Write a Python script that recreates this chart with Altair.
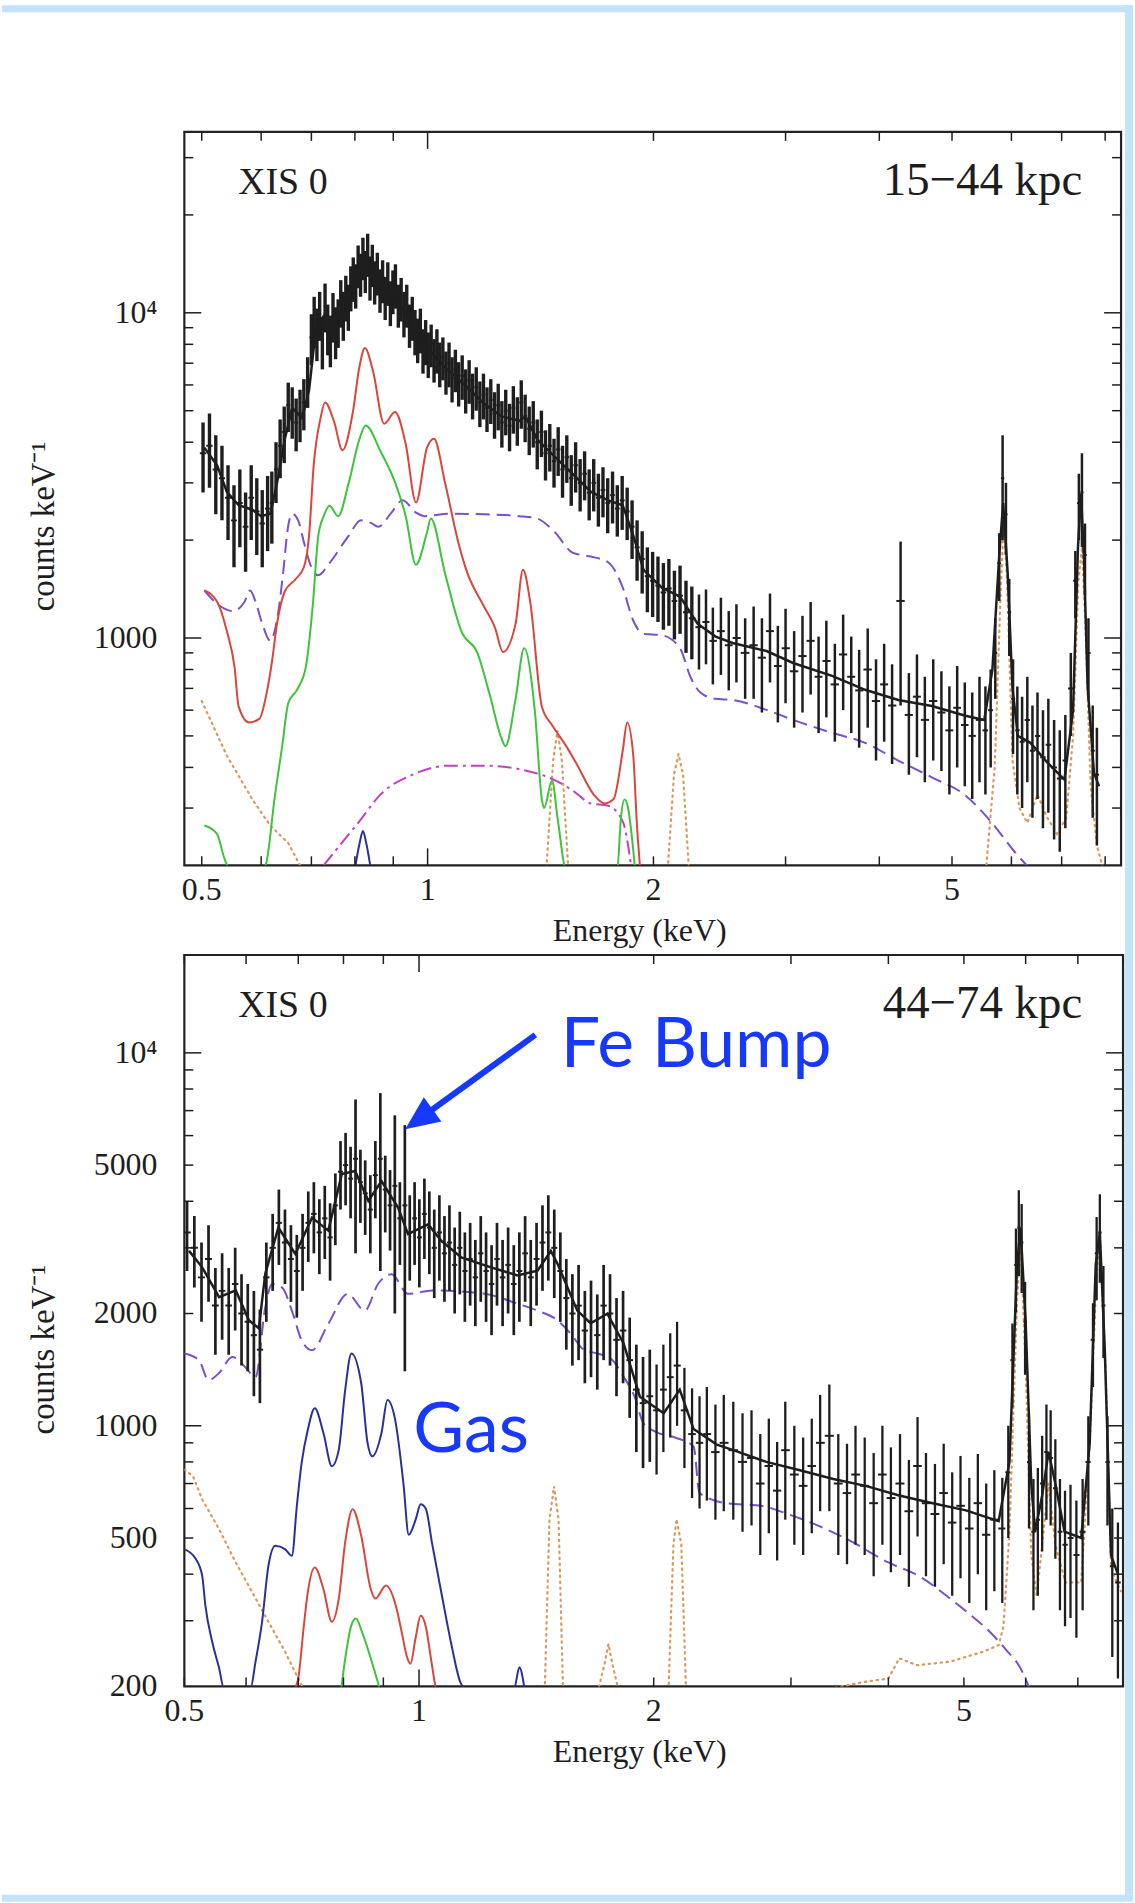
import altair as alt
import numpy as np
import pandas as pd

SERIF = "Liberation Serif"
INK = "#1e1e1e"
FRAME_BLUE = "#c3e3fa"
NOTE_BLUE = "#1738ff"

# ---------------- upper panel: XIS 0, 15-44 kpc ----------------
TOP_E = [0.502, 0.512, 0.522, 0.532, 0.542, 0.552, 0.562, 0.572, 0.582, 0.592, 0.602, 0.612,
         0.620, 0.628, 0.636, 0.644, 0.652, 0.660, 0.668, 0.676, 0.684, 0.692,
         0.700, 0.706, 0.712, 0.718, 0.724, 0.730, 0.736, 0.742, 0.748, 0.754, 0.760, 0.766, 0.772, 0.778, 0.784, 0.790,
         0.796, 0.802, 0.808, 0.814, 0.820, 0.826, 0.832, 0.838, 0.844, 0.850, 0.857, 0.864, 0.871, 0.878, 0.885, 0.892,
         0.899, 0.906, 0.914, 0.922, 0.930, 0.938, 0.946, 0.954,
         0.962, 0.970, 0.978, 0.986, 0.994, 1.002, 1.011, 1.020, 1.029, 1.038, 1.048, 1.058, 1.068, 1.078, 1.089, 1.100,
         1.112, 1.124, 1.136, 1.148, 1.161, 1.174, 1.187, 1.200, 1.214, 1.228,
         1.242, 1.256, 1.271, 1.286, 1.301, 1.317, 1.333, 1.349, 1.366, 1.383, 1.400, 1.418, 1.436, 1.455, 1.474, 1.493,
         1.513, 1.533, 1.554, 1.575, 1.597, 1.619, 1.642, 1.665, 1.689, 1.713, 1.738, 1.764, 1.790, 1.817,
         1.845, 1.873, 1.902, 1.932, 1.963, 1.995, 2.028, 2.062, 2.097, 2.133, 2.170, 2.210, 2.250, 2.300, 2.350, 2.400,
         2.460, 2.520, 2.580, 2.650,
         2.72, 2.79, 2.86, 2.93, 3.00, 3.08, 3.16, 3.24, 3.32, 3.40, 3.49, 3.58, 3.67, 3.76, 3.86, 3.96, 4.06, 4.16,
         4.27, 4.38, 4.49, 4.60, 4.72, 4.84, 4.96, 5.08, 5.20, 5.32,
         5.44, 5.54, 5.63, 5.71, 5.78, 5.84, 5.90, 5.96, 6.03, 6.11, 6.20, 6.30, 6.40, 6.50, 6.61, 6.72, 6.84, 6.96,
         7.08, 7.20, 7.30, 7.38, 7.45, 7.52, 7.60, 7.70, 7.80]
TOP_CTS = [3700, 3900, 3300, 3100, 2700, 2300, 2600, 2200, 2700, 2450, 2250, 2500,
           2600, 3300, 3900, 4300, 5200, 5000, 4600, 4900, 5300, 6200,
           8400, 9500, 8700, 9900, 8200, 10500, 9000, 8300, 9800, 8800, 9400, 10800, 9900, 11200, 10500, 12000,
           12800, 12200, 14000, 13200, 14800, 13500, 15200, 12900, 14100, 12500, 13300, 11800, 12600, 11200, 12400, 10800,
           11700, 12200, 10600, 11100, 10000, 10600, 9200, 9700,
           8800, 8300, 8900, 7700, 8200, 7500, 8000, 7200, 7700, 7000, 7300, 6600, 7000, 6300, 6700, 6100,
           6400, 5800, 6200, 5600, 5900, 5300, 5600, 5100, 5400, 4900,
           5200, 4600, 5000, 4500, 5100, 4700, 5300, 4800, 4400, 4600, 4000, 4300, 3700, 3900, 3500, 3800,
           3300, 3600, 3100, 3400, 3000, 3200, 2800, 3000, 2700, 2850, 2600, 2750, 2500, 2650,
           2450, 2200, 1900, 1750, 1550, 1500, 1450, 1380, 1420, 1300, 1350, 1200, 1150, 1080, 1120, 980,
           1050, 950, 1000, 900,
           950, 870, 1050, 820, 930, 790, 880, 980, 760, 850, 720, 890, 760, 690, 800, 640, 720, 620,
           1300, 580, 660, 560, 640, 590, 520, 610, 540, 500,
           560, 520, 600, 900, 1700, 3100, 2400, 1200, 650, 520, 480, 560, 450, 500, 430, 470, 400, 370,
           420, 700, 1500, 2600, 2800, 1800, 900, 450, 380]
TOP_ERR = [900, 1000, 900, 800, 700, 650, 700, 600, 700, 650, 600, 650,
           650, 700, 800, 850, 900, 900, 850, 900, 950, 1100,
           1500, 1700, 1600, 1700, 1500, 1800, 1600, 1500, 1700, 1600, 1600, 1800, 1700, 1800, 1700, 1900,
           2000, 1900, 2100, 2000, 2200, 2000, 2300, 2000, 2100, 1900, 2000, 1800, 1900, 1700, 1900, 1700,
           1800, 1900, 1600, 1700, 1600, 1600, 1400, 1500,
           1400, 1300, 1400, 1200, 1300, 1200, 1200, 1100, 1200, 1100, 1100, 1000, 1100, 1000, 1000, 950,
           1000, 900, 950, 900, 900, 850, 900, 800, 850, 800,
           850, 750, 800, 750, 850, 800, 900, 800, 750, 750, 700, 700, 650, 650, 600, 650,
           600, 600, 550, 600, 550, 550, 500, 550, 500, 500, 500, 500, 450, 500,
           450, 450, 400, 380, 350, 340, 330, 320, 330, 310, 320, 300, 290, 280, 290, 260,
           280, 260, 270, 250,
           300, 280, 320, 270, 300, 260, 290, 310, 250, 280, 240, 290, 250, 230, 270, 220, 240, 210,
           680, 200, 230, 200, 220, 200, 190, 210, 190, 180,
           200, 190, 200, 250, 400, 1100, 600, 320, 210, 190, 180, 200, 170, 180, 170, 180, 160, 150,
           160, 200, 350, 600, 900, 450, 250, 170, 150]

TOP_MODEL_E = [0.504, 0.524, 0.54, 0.56, 0.584, 0.60, 0.617, 0.63, 0.645, 0.66, 0.68, 0.695, 0.71, 0.727, 0.75,
               0.775, 0.80, 0.82, 0.85, 0.88, 0.91, 0.945, 0.975, 1.01, 1.055, 1.126, 1.19, 1.255, 1.326, 1.35,
               1.40, 1.479, 1.56, 1.65, 1.74, 1.82, 1.88, 1.94, 2.05, 2.17, 2.29, 2.42, 2.55, 2.83, 3.07, 3.46,
               3.83, 4.24, 4.70, 5.21, 5.52, 5.66, 5.78, 5.85, 5.93, 6.02, 6.12, 6.36, 6.7, 7.06, 7.25, 7.36,
               7.43, 7.50, 7.58, 7.73, 7.85]
TOP_MODEL = [3850, 3400, 2817, 2560, 2480, 2370, 2411, 3000, 4080, 5100, 4750, 5780, 9000, 9780, 9500,
             10000, 12100, 13800, 12700, 11400, 11000, 9500, 8100, 7600, 6800, 5950, 5250, 4800, 4650, 4800,
             4080, 3600, 3200, 2817, 2650, 2560, 2064, 1620, 1430, 1340, 1107, 1010, 965, 912, 838, 765,
             693, 645, 618, 577, 560, 800, 1800, 2600, 1600, 700, 500, 476, 414, 367, 600, 1900,
             2780, 1700, 712, 385, 350]

TOP_RED_E = [0.504, 0.524, 0.54, 0.553, 0.56, 0.578, 0.597, 0.61, 0.62, 0.63, 0.645, 0.666, 0.684, 0.695, 0.705,
             0.72, 0.73, 0.75, 0.77, 0.795, 0.811, 0.825, 0.846, 0.875, 0.905, 0.935, 0.965, 0.998, 1.02, 1.055,
             1.10, 1.126, 1.189, 1.23, 1.26, 1.31, 1.34, 1.37, 1.42, 1.465, 1.53, 1.58, 1.665, 1.72, 1.77, 1.82,
             1.845, 1.88, 1.90, 1.92]
TOP_RED = [1400, 1294, 1050, 812, 615, 550, 565, 675, 840, 1107, 1390, 1512, 1650, 2064, 3400,
           4750, 5300, 4650, 3780, 4950, 6800, 7800, 6600, 4560, 4950, 3950, 2610, 3846, 4100, 3000,
           1950, 1620, 1250, 1075, 905, 1107, 1620, 1294, 615, 540, 465, 410, 330, 310, 320, 450,
           550, 435, 273, 195]

TOP_GREEN_E = [0.504, 0.524, 0.536, 0.545, 0.605, 0.61, 0.625, 0.64, 0.652, 0.67, 0.688, 0.703, 0.715, 0.727,
               0.74, 0.76, 0.785, 0.811, 0.827, 0.865, 0.905, 0.935, 0.965, 0.998, 1.01, 1.055, 1.11, 1.165,
               1.21, 1.255, 1.27, 1.31, 1.345, 1.39, 1.42, 1.43, 1.465, 1.49, 1.53, 1.79, 1.81, 1.83, 1.85,
               1.87, 1.89]
TOP_GREEN = [265, 250, 210, 195, 195, 205, 319, 465, 630, 694, 812, 1260, 2064, 2370,
             2550, 2370, 3000, 4080, 4500, 3760, 3010, 2370, 1680, 2110, 2330, 1580, 1045, 900,
             670, 490, 465, 650, 930, 594, 319, 300, 365, 280, 195, 195, 280, 319, 300,
             250, 195]

TOP_BLUE_E = [0.80, 0.812, 0.82, 0.828, 0.84]
TOP_BLUE = [195, 235, 255, 235, 195]

TOP_PURPLE_E = [0.504, 0.53, 0.55, 0.57, 0.58, 0.59, 0.602, 0.617, 0.63, 0.643, 0.65, 0.66, 0.672, 0.685, 0.70,
                0.715, 0.74, 0.785, 0.815, 0.84, 0.86, 0.895, 0.926, 0.965, 0.99, 1.066, 1.19, 1.326, 1.40,
                1.479, 1.56, 1.65, 1.74, 1.82, 1.88, 1.94, 2.05, 2.17, 2.24, 2.31, 2.42, 2.55, 2.83, 3.07,
                3.46, 3.83, 4.24, 4.70, 5.21, 5.60, 6.07, 6.35]
TOP_PURPLE = [1400, 1250, 1210, 1290, 1400, 1290, 1107, 980, 1140, 1650, 2110, 2411, 2300, 1950, 1650,
              1560, 1700, 2064, 2300, 2260, 2200, 2430, 2650, 2430, 2370, 2411, 2400, 2370, 2330,
              2110, 1830, 1780, 1710, 1430, 1130, 1030, 1020, 930, 760, 680, 650, 645, 601, 560,
              511, 476, 420, 373, 328, 277, 219, 195]

TOP_MAGENTA_E = [0.727, 0.768, 0.811, 0.865, 0.955, 1.066, 1.19, 1.326, 1.479, 1.56, 1.65, 1.74, 1.82, 1.87]
TOP_MAGENTA = [200, 234, 273, 330, 380, 405, 405, 395, 365, 340, 310, 305, 273, 195]

TOP_ORANGE_E = [0.5, 0.54, 0.584, 0.617, 0.652, 0.68, 1.44, 1.47, 1.49, 1.51, 1.54, 2.09, 2.13, 2.16, 2.19,
                2.23, 5.55, 5.70, 5.80, 5.86, 5.92, 6.02, 6.15, 6.3, 6.5, 6.7, 6.9, 7.1, 7.25, 7.37, 7.45,
                7.53, 7.65, 7.8, 7.95]
TOP_ORANGE = [640, 435, 319, 265, 234, 195, 195, 420, 520, 420, 195, 195, 380, 440, 380,
              195, 195, 400, 1300, 2300, 1500, 420, 300, 270, 330, 280, 250, 280, 500, 1500, 1900,
              1100, 350, 230, 195]

# ---------------- lower panel: XIS 0, 44-74 kpc ----------------
BOT_E = [0.504, 0.515, 0.526, 0.537, 0.548, 0.559, 0.570, 0.581, 0.592, 0.603, 0.614, 0.625, 0.637, 0.649, 0.661, 0.673,
         0.685, 0.697, 0.709, 0.721, 0.733, 0.745, 0.757, 0.769, 0.781, 0.793, 0.805, 0.817, 0.829, 0.841, 0.853, 0.866,
         0.879, 0.892, 0.905, 0.918, 0.931, 0.945, 0.959, 0.973, 0.987, 1.001,
         1.016, 1.031, 1.046, 1.062, 1.078, 1.094, 1.111, 1.128, 1.145, 1.163, 1.181, 1.200, 1.219, 1.239, 1.259, 1.280,
         1.301, 1.323, 1.345, 1.368, 1.391, 1.415, 1.440, 1.465, 1.491, 1.518, 1.545, 1.573, 1.602, 1.632, 1.662, 1.693,
         1.725, 1.758, 1.792, 1.827, 1.863, 1.900, 1.938, 1.977, 2.017, 2.058, 2.100, 2.143, 2.190, 2.240, 2.290, 2.340,
         2.400, 2.460, 2.530, 2.600,
         2.67, 2.74, 2.81, 2.88, 2.95, 3.03, 3.11, 3.19, 3.27, 3.36, 3.45, 3.54, 3.63, 3.73, 3.83, 3.93, 4.03, 4.14,
         4.25, 4.36, 4.47, 4.59, 4.71, 4.83, 4.95, 5.08, 5.21, 5.34, 5.47, 5.60,
         5.70, 5.77, 5.83, 5.88, 5.93, 5.99, 6.06, 6.14, 6.22, 6.30, 6.38, 6.46, 6.55, 6.64, 6.74, 6.85, 6.97, 7.10,
         7.22, 7.32, 7.40, 7.47, 7.55, 7.64, 7.75, 7.88]
BOT_CTS = [3300, 3000, 2500, 2800, 2100, 2300, 2100, 2400, 2000, 1900, 1750, 1600, 2500, 3000, 3500, 3100,
           2800, 2600, 3000, 3500, 3700, 3300, 3600, 3200, 3900, 4800, 5000, 4600, 5200, 4500, 4200, 3800,
           4700, 5200, 4300, 3900, 4400, 3600, 3900, 3300, 3600, 3200,
           3700, 3400, 3000, 3300, 2900, 3100, 2700, 3000, 2600, 2800, 2500, 2900, 2600, 2400, 2800, 2500,
           2700, 2400, 2600, 2900, 2500, 2800, 3100, 3300, 3000, 2600, 2200, 2000, 2100, 1800, 1900, 1750,
           2100, 2000, 1700, 1800, 1500, 1250, 1150, 1200, 1100, 1250, 1350, 1450, 1100, 950, 900, 950,
           850, 900, 860, 800,
           820, 700, 780, 670, 860, 740, 690, 780, 900, 940, 700, 660, 740, 690, 620, 740, 640, 700,
           590, 780, 620, 580, 660, 550, 610, 530, 620, 510, 560, 530,
           750, 1500, 2700, 3400, 3100, 1900, 800, 520, 560, 700, 850, 820, 680, 520, 480, 500, 450, 520,
           800, 1700, 2900, 3300, 2100, 800, 420, 380]
BOT_ERR = [700, 650, 600, 650, 550, 600, 550, 600, 550, 500, 550, 450, 600, 700, 800, 700,
           650, 650, 700, 750, 800, 750, 800, 750, 850, 1000, 1100, 1000, 2300, 1000, 950, 900,
           1100, 2600, 1000, 950, 2400, 900, 2500, 850, 900, 850,
           900, 850, 800, 850, 750, 800, 700, 750, 700, 700, 650, 750, 700, 650, 700, 650,
           700, 650, 700, 750, 650, 700, 800, 850, 800, 700, 600, 550, 600, 500, 550, 500,
           600, 550, 500, 500, 450, 400, 380, 400, 360, 400, 420, 450, 330, 310, 300, 320,
           290, 310, 300, 280,
           280, 250, 265, 235, 300, 260, 240, 265, 310, 350, 250, 235, 260, 240, 225, 260, 235, 250,
           220, 275, 225, 210, 235, 200, 220, 195, 220, 190, 200, 195,
           250, 380, 680, 880, 830, 530, 270, 200, 210, 240, 290, 280, 240, 200, 190, 195, 180, 200,
           260, 430, 730, 880, 580, 260, 180, 170]

BOT_MODEL_E = [0.507, 0.527, 0.554, 0.582, 0.605, 0.623, 0.635, 0.66, 0.694, 0.729, 0.765, 0.796, 0.828, 0.861,
               0.895, 0.94, 0.968, 1.027, 1.068, 1.133, 1.237, 1.338, 1.419, 1.476, 1.505, 1.596, 1.66, 1.744,
               1.83, 1.92, 2.06, 2.16, 2.25, 2.41, 2.53, 2.79, 3.08, 3.40, 3.74, 4.13, 4.56, 5.03, 5.54, 5.72,
               5.85, 5.91, 6.0, 6.1, 6.17, 6.3, 6.42, 6.55, 6.73, 7.07, 7.25, 7.38, 7.47, 7.58, 7.72, 7.88]
BOT_MODEL = [2944, 2660, 2213, 2307, 1918, 1825, 2558, 3400, 2890, 3615, 3337, 4730, 4820, 4010,
             4530, 3846, 3266, 3470, 3134, 2828, 2660, 2530, 2606, 2943, 2722, 2036, 1883, 1997,
             1662, 1197, 1080, 1250, 980, 890, 860, 800, 760, 720, 690, 650, 620, 593, 555, 800,
             2700, 3400, 1900, 700, 520, 650, 850, 700, 520, 500, 900, 2700, 3300, 1600, 450, 400]

BOT_BLUE_E = [0.5, 0.517, 0.527, 0.532, 0.543, 0.554, 0.562, 0.608, 0.617, 0.629, 0.641, 0.654, 0.673, 0.687,
              0.697, 0.707, 0.72, 0.735, 0.754, 0.773, 0.789, 0.804, 0.819, 0.843, 0.859, 0.871, 0.895, 0.911,
              0.932, 0.955, 0.97, 0.99, 1.005, 1.02, 1.04, 1.07, 1.10, 1.13, 1.145, 1.325, 1.345, 1.365]
BOT_BLUE = [467, 440, 397, 330, 263, 224, 198, 198, 233, 298, 422, 477, 467, 448,
            609, 795, 976, 1115, 956, 779, 863, 1247, 1563, 1300, 899, 828, 956, 1173,
            1037, 700, 510, 560, 616, 600, 480, 350, 260, 205, 198, 198, 225, 198]

BOT_RED_E = [0.693, 0.70, 0.711, 0.72, 0.735, 0.754, 0.773, 0.789, 0.804, 0.822, 0.843, 0.867, 0.879, 0.907,
             0.936, 0.95, 0.965, 0.975, 0.99, 1.005, 1.02, 1.035, 1.05]
BOT_RED = [198, 210, 286, 358, 417, 365, 298, 344, 487, 597, 507, 365, 344, 373,
           323, 280, 240, 230, 270, 310, 290, 240, 198]

BOT_GREEN_E = [0.795, 0.805, 0.819, 0.83, 0.845, 0.867, 0.89]
BOT_GREEN = [198, 241, 292, 304, 280, 238, 198]

BOT_PURPLE_E = [0.5, 0.522, 0.537, 0.554, 0.576, 0.598, 0.617, 0.635, 0.648, 0.667, 0.689, 0.707, 0.729, 0.765,
                0.81, 0.852, 0.886, 0.922, 0.968, 1.04, 1.214, 1.338, 1.419, 1.505, 1.565, 1.63, 1.70, 1.77,
                1.83, 1.89, 1.94, 2.02, 2.13, 2.25, 2.29, 2.48, 2.75, 2.97, 3.25, 3.55, 4.0, 4.4, 4.75, 5.07,
                5.4, 5.66, 5.9, 6.07]
BOT_PURPLE = [1563, 1500, 1326, 1385, 1530, 1440, 1350, 2080, 2400, 2350, 1997, 1695, 1595, 1877,
              2258, 2036, 2400, 2550, 2258, 2306, 2258, 2125, 2036, 1918, 1766, 1595, 1560, 1500,
              1353, 1197, 1017, 960, 930, 880, 660, 620, 610, 580, 540, 495, 430, 393, 350, 314,
              280, 251, 225, 198]

BOT_ORANGE_E = [0.5, 0.513, 0.527, 0.554, 0.582, 0.611, 0.641, 0.673, 0.7, 0.71, 1.45, 1.47, 1.49, 1.51, 1.53,
                1.70, 1.73, 1.75, 1.77, 1.80, 2.09, 2.12, 2.14, 2.17, 2.20, 3.40, 3.74, 4.0, 4.13, 4.35, 4.8,
                5.3, 5.54, 5.62, 5.72, 5.85, 5.91, 6.0, 6.1, 6.2, 6.3, 6.42, 6.55, 6.75, 7.07, 7.25, 7.40,
                7.47, 7.6, 7.72, 7.85, 7.95]
BOT_ORANGE = [763, 732, 635, 528, 430, 358, 298, 248, 210, 198, 198, 560, 688, 560, 198,
              198, 230, 260, 230, 198, 198, 480, 562, 480, 198, 198, 206, 210, 238, 228, 233,
              248, 258, 290, 518, 2166, 3130, 1440, 450, 350, 480, 700, 480, 380, 380, 900, 2600,
              3200, 1400, 420, 380, 360]

X_LABELS = [0.5, 1, 2, 5]
X_MINOR = [0.5, 0.6, 0.7, 0.8, 0.9, 2, 3, 4, 5, 6, 7, 8]
X_MAJOR = [1]
Y_MAJOR = [1000, 10000]
TOP_Y_LABELS = [1000, 10000]
TOP_Y_MINOR = [300, 400, 500, 600, 700, 800, 900, 2000, 3000, 4000, 5000, 6000, 7000, 8000, 9000, 20000, 30000]
BOT_Y_LABELS = [200, 500, 1000, 2000, 5000, 10000]
BOT_Y_MINOR = [300, 400, 500, 600, 700, 800, 900, 2000, 3000, 4000, 5000, 6000, 7000, 8000, 9000]


def spectrum_frame(E, cts, err, dense_below, w_dense, w_sparse):
    e = np.asarray(E, float)
    mid = np.sqrt(e[:-1] * e[1:])
    lo_e = np.concatenate([[e[0] ** 2 / mid[0]], mid])
    hi_e = np.concatenate([mid, [e[-1] ** 2 / mid[-1]]])
    c = np.asarray(cts, float)
    s = np.asarray(err, float)
    # narrow channels get heavier strokes so the crowded part reads as a solid band
    w = np.where(e < dense_below, w_dense, w_sparse)
    return pd.DataFrame({"E": e, "v": c, "lo": c - s, "hi": c + s, "elo": lo_e, "ehi": hi_e, "w": w})


def curve(E, V):
    return pd.DataFrame({"E": E, "v": V})


def tick_label(v):
    return "10⁴" if v == 10000 else f"{v:g}"


ONE = pd.DataFrame({"k": [0]})


def panel(W, H, xdom, ydom, spec, ylabels, yminor, region, extras, frame_bits):
    xs = alt.Scale(type="log", domain=xdom, nice=False)
    ys = alt.Scale(type="log", domain=ydom, nice=False)

    def X(f):
        return alt.X(f, type="quantitative", scale=xs, axis=None)

    def Y(f):
        return alt.Y(f, type="quantitative", scale=ys, axis=None)

    layers = list(frame_bits)

    # model components
    for df, color, dash, width, interp in extras:
        kw = dict(color=color, strokeWidth=width, clip=True, interpolate=interp)
        if dash:
            kw["strokeDash"] = dash
            kw["strokeCap"] = "round" if dash[0] < 3 else "butt"
        layers.append(alt.Chart(df).mark_line(**kw).encode(x=X("E"), y=Y("v"), order="E:Q"))

    # data: vertical error bars and bin widths
    layers.append(alt.Chart(spec).mark_rule(color=INK, clip=True).encode(
        x=X("E"), y=Y("lo"), y2="hi:Q",
        strokeWidth=alt.StrokeWidth("w:Q", scale=None, legend=None)))
    layers.append(alt.Chart(spec).mark_rule(color=INK, strokeWidth=2.0, clip=True).encode(
        x=X("elo"), x2="ehi:Q", y=Y("v")))

    # inward ticks on all four sides
    for vals, ln in ((X_MINOR, 9), (X_MAJOR, 17)):
        t = pd.DataFrame({"t": vals})
        layers.append(alt.Chart(t).mark_rule(color=INK, strokeWidth=1.5).encode(
            x=X("t"), y=alt.value(H), y2=alt.value(H - ln)))
        layers.append(alt.Chart(t).mark_rule(color=INK, strokeWidth=1.5).encode(
            x=X("t"), y=alt.value(0), y2=alt.value(ln)))
    for vals, ln in ((yminor, 9), (Y_MAJOR, 17)):
        t = pd.DataFrame({"t": vals})
        layers.append(alt.Chart(t).mark_rule(color=INK, strokeWidth=1.5).encode(
            y=Y("t"), x=alt.value(0), x2=alt.value(ln)))
        layers.append(alt.Chart(t).mark_rule(color=INK, strokeWidth=1.5).encode(
            y=Y("t"), x=alt.value(W), x2=alt.value(W - ln)))

    # tick labels
    xl = pd.DataFrame({"t": X_LABELS, "lab": [tick_label(v) for v in X_LABELS]})
    layers.append(alt.Chart(xl).mark_text(font=SERIF, fontSize=32, color=INK, align="center",
                                          baseline="alphabetic").encode(
        x=X("t"), y=alt.value(H + 35), text="lab:N"))
    yl = pd.DataFrame({"t": ylabels, "lab": [tick_label(v) for v in ylabels]})
    layers.append(alt.Chart(yl).mark_text(font=SERIF, fontSize=32, color=INK, align="right",
                                          baseline="middle").encode(
        y=Y("t"), x=alt.value(-27), text="lab:N"))

    # axis titles
    layers.append(alt.Chart(ONE).mark_text(text="Energy (keV)", font=SERIF, fontSize=32, color=INK,
                                           align="center", baseline="alphabetic").encode(
        x=alt.value(457), y=alt.value(H + 76)))
    layers.append(alt.Chart(ONE).mark_text(text="counts keV⁻¹", font=SERIF, fontSize=33, color=INK,
                                           align="center", baseline="middle", angle=270).encode(
        x=alt.value(-141), y=alt.value(396)))

    # panel labels
    layers.append(alt.Chart(ONE).mark_text(text="XIS 0", font=SERIF, fontSize=38, color=INK,
                                           align="left", baseline="alphabetic").encode(
        x=alt.value(54), y=alt.value(62)))
    layers.append(alt.Chart(ONE).mark_text(text=region, font=SERIF, fontSize=47, color=INK,
                                           align="right", baseline="alphabetic").encode(
        x=alt.value(901), y=alt.value(63)))
    return layers, xs, ys


def strip(x0, x1, y0, y1):
    return alt.Chart(ONE).mark_rect(color=FRAME_BLUE).encode(
        x=alt.value(x0), x2=alt.value(x1), y=alt.value(y0), y2=alt.value(y1))


RED, GREEN, BLUE = "#d8463c", "#3cc43c", "#2b2f9c"
PURPLE, MAGENTA, ORANGE = "#7a50cf", "#c23fc6", "#d99a5e"

top_extras = [
    (curve(TOP_ORANGE_E, TOP_ORANGE), ORANGE, [1.5, 4.5], 2.2, "linear"),
    (curve(TOP_MAGENTA_E, TOP_MAGENTA), MAGENTA, [14, 5, 3, 5], 2, "monotone"),
    (curve(TOP_PURPLE_E, TOP_PURPLE), PURPLE, [14, 7], 2, "monotone"),
    (curve(TOP_GREEN_E, TOP_GREEN), GREEN, None, 2, "monotone"),
    (curve(TOP_RED_E, TOP_RED), RED, None, 2, "monotone"),
    (curve(TOP_BLUE_E, TOP_BLUE), BLUE, None, 2, "monotone"),
    (curve(TOP_MODEL_E, TOP_MODEL), INK, None, 2.5, "linear"),
]
top_layers, _, _ = panel(
    940, 736, [0.474, 8.4], [200, 36000],
    spectrum_frame(TOP_E, TOP_CTS, TOP_ERR, 2.3, 3.4, 2.5),
    TOP_Y_LABELS, TOP_Y_MINOR, "15−44 kpc", top_extras,
    [strip(-183, 952, -127, -120), strip(944, 952, -127, 826)])
top = alt.layer(*top_layers).properties(width=940, height=736)

bot_extras = [
    (curve(BOT_ORANGE_E, BOT_ORANGE), ORANGE, [1.5, 4.5], 2.2, "linear"),
    (curve(BOT_PURPLE_E, BOT_PURPLE), PURPLE, [14, 7], 2, "monotone"),
    (curve(BOT_GREEN_E, BOT_GREEN), GREEN, None, 2, "monotone"),
    (curve(BOT_RED_E, BOT_RED), RED, None, 2, "monotone"),
    (curve(BOT_BLUE_E, BOT_BLUE), BLUE, None, 2, "monotone"),
    (curve(BOT_MODEL_E, BOT_MODEL), INK, None, 2.5, "linear"),
]
bot_layers, bxs, bys = panel(
    942, 734, [0.5, 8.0], [200, 18300],
    spectrum_frame(BOT_E, BOT_CTS, BOT_ERR, 2.0, 2.7, 2.3),
    BOT_Y_LABELS, BOT_Y_MINOR, "44−74 kpc", bot_extras,
    [strip(944, 952, 0, 943), strip(-183, 952, 943, 950)])

# annotations in the lower panel
ARROW_SHAFT = pd.DataFrame({"E": [1.41, 1.007], "v": [11170, 6710]})
ARROW_TIP = pd.DataFrame({"E": [0.96], "v": [6240]})
NOTES = pd.DataFrame({"E": [1.52, 0.983], "v": [9180, 853], "txt": ["Fe Bump", "Gas"]})

bot_layers.append(alt.Chart(ARROW_SHAFT).mark_line(color=NOTE_BLUE, strokeWidth=6).encode(
    x=alt.X("E:Q", scale=bxs, axis=None), y=alt.Y("v:Q", scale=bys, axis=None), order="v:Q"))
bot_layers.append(alt.Chart(ARROW_TIP).mark_point(
    shape="M0,0L0.75,1.7L-0.75,1.7Z", filled=True, size=1600, angle=234, color=NOTE_BLUE, opacity=1).encode(
    x=alt.X("E:Q", scale=bxs, axis=None), y=alt.Y("v:Q", scale=bys, axis=None)))
bot_layers.append(alt.Chart(NOTES).mark_text(font="Lato", fontSize=70, color=NOTE_BLUE,
                                             align="left", baseline="alphabetic").encode(
    x=alt.X("E:Q", scale=bxs, axis=None), y=alt.Y("v:Q", scale=bys, axis=None), text="txt:N"))

bottom = alt.layer(*bot_layers).properties(width=942, height=734)

chart = alt.vconcat(top, bottom, spacing=90, bounds="flush").properties(
    padding=0, background="#ffffff"
).configure_view(stroke="#222222", strokeWidth=2.2)

chart.save("out.html", embed_options={"renderer": "svg", "actions": False})
